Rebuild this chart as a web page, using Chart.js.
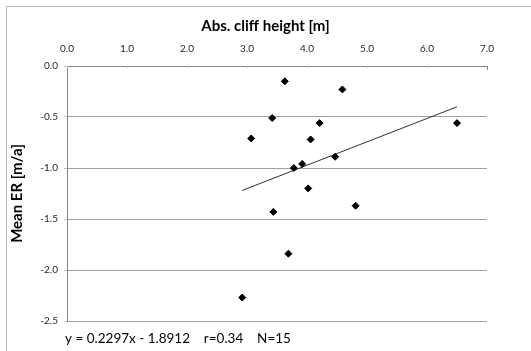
<!DOCTYPE html>
<html>
<head>
<meta charset="utf-8">
<script src="https://cdn.jsdelivr.net/npm/chart.js@4.4.1/dist/chart.umd.min.js"></script>
<style>
html, body { margin: 0; padding: 0; background: #fff; }
#wrap { position: relative; width: 531px; height: 351px; overflow: hidden; }
#frame { position: absolute; left: 6px; top: 6px; right: -2px; bottom: -2px; border-left: 1px solid #bdbdbd; border-top: 1px solid #bdbdbd; }
canvas { position: absolute; left: 0; top: 0; }
</style>
</head>
<body>
<div id="wrap">
	<div id="frame"></div>
	<canvas id="chart" width="531" height="351"></canvas>
</div>
<script>
// values
var cliffHeight = [3.63, 4.59, 3.42, 3.07, 4.21, 4.06, 3.78, 3.92, 4.47, 4.02, 3.44, 4.81, 6.50, 3.69, 2.92];
var meanER = [-0.15, -0.23, -0.51, -0.71, -0.56, -0.72, -1.00, -0.96, -0.89, -1.20, -1.43, -1.37, -0.56, -1.84, -2.27];
var trendX = [2.92, 6.50];
var trendY = [-1.22, -0.40];
var xTitle = 'Abs. cliff height [m]';
var yTitle = 'Mean ER [m/a]';
var equation = 'y = 0.2297x - 1.8912    r=0.34    N=15';

var fontFamily = "Lato, 'Open Sans', sans-serif";

var pointData = cliffHeight.map(function(x, i){ return {x: x, y: meanER[i]}; });
var trendData = trendX.map(function(x, i){ return {x: x, y: trendY[i]}; });

// x title above the axis, equation below the plot, little inside ticks on the top axis
var extraText = {
	id: 'extraText',
	afterDraw: function(chart){
		var ctx = chart.ctx;
		var area = chart.chartArea;
		var xs = chart.scales.x;
		ctx.save();
		ctx.strokeStyle = '#c0c0c0';
		ctx.lineWidth = 1;
		xs.ticks.forEach(function(t, i){
			var px = Math.round(xs.getPixelForValue(t.value)) + 0.5;
			var len = (i === xs.ticks.length - 1) ? 4 : 2;
			if (i === xs.ticks.length - 1) ctx.strokeStyle = '#868686';
			ctx.beginPath();
			ctx.moveTo(px, area.top);
			ctx.lineTo(px, area.top + len);
			ctx.stroke();
		});
		ctx.fillStyle = '#000';
		ctx.textBaseline = 'middle';
		ctx.textAlign = 'center';
		ctx.font = 'bold 15px ' + fontFamily;
		ctx.fillText(xTitle, chart.width / 2, 26);
		ctx.textAlign = 'left';
		ctx.font = '13.5px ' + fontFamily;
		ctx.fillText(equation, area.left - 2, 339);
		ctx.restore();
	}
};

var chartCanvas = document.getElementById('chart').getContext('2d');
var scatterChart = new Chart(chartCanvas, {
	type: 'scatter',
	data: {
		datasets: [
			{
				data: pointData,
				pointStyle: 'rectRot',
				pointRadius: 3.5,
				backgroundColor: '#000',
				borderColor: '#000',
				borderWidth: 1
			},
			{
				type: 'line',
				data: trendData,
				showLine: true,
				pointRadius: 0,
				borderColor: '#303030',
				borderWidth: 1,
				fill: false
			}
		]
	},
	options: {
		responsive: false,
		animation: false,
		layout: { padding: { left: 0, top: 0, right: 44, bottom: 30 } },
		plugins: {
			legend: { display: false },
			tooltip: { enabled: false }
		},
		scales: {
			x: {
				type: 'linear',
				position: 'top',
				min: 0,
				max: 7,
				ticks: {
					stepSize: 1,
					padding: 11,
					color: '#262626',
					font: { family: fontFamily, size: 10 },
					callback: function(v){ return v.toFixed(1); }
				},
				grid: { drawOnChartArea: false, drawTicks: false },
				border: { display: true, color: '#868686' },
				afterFit: function(s){ s.height = 66; }
			},
			y: {
				type: 'linear',
				min: -2.5,
				max: 0,
				ticks: {
					stepSize: 0.5,
					padding: 6,
					color: '#262626',
					font: { family: fontFamily, size: 10 },
					callback: function(v){ return v.toFixed(1); }
				},
				grid: { color: '#a0a0a0', tickLength: 3, tickColor: '#c0c0c0' },
				border: { display: true, color: '#868686' },
				title: {
					display: true,
					text: yTitle,
					color: '#000',
					font: { family: fontFamily, size: 15, weight: 'bold' },
					padding: { top: 8, bottom: 0 }
				},
				afterFit: function(s){ s.width = 67; }
			}
		}
	},
	plugins: [extraText]
});
</script>
</body>
</html>
